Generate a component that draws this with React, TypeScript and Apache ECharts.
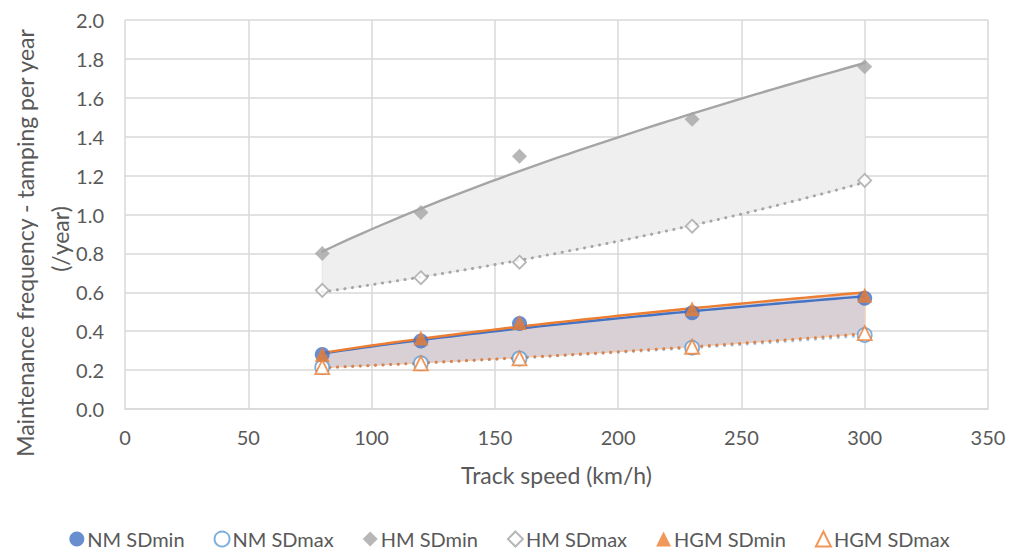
import React, { useEffect, useRef } from "react";
import * as echarts from "echarts";

const speeds = [80, 120, 160, 230, 300];
const nmMin = [0.28, 0.35, 0.44, 0.495, 0.57];
const nmMax = [0.215, 0.235, 0.26, 0.315, 0.38];
const hmMin = [0.8, 1.01, 1.3, 1.49, 1.76];
const hmMax = [0.61, 0.675, 0.755, 0.94, 1.175];
const hgmMin = [0.28, 0.365, 0.445, 0.515, 0.585];
const hgmMax = [0.215, 0.235, 0.26, 0.32, 0.39];

const xTicks = { min: 0, max: 350, interval: 50 };
const yTicks = { min: 0, max: 2, interval: 0.2 };

const yTitle1 = "Maintenance frequency - tamping per year";
const yTitle2 = "(/year)";
const xTitle = "Track speed (km/h)";

const FONT = "Lato, 'Noto Sans', sans-serif";
const TXT = "#595959";

function linReg(xs: number[], ys: number[]) {
  const n = xs.length;
  const mx = xs.reduce((a, b) => a + b, 0) / n;
  const my = ys.reduce((a, b) => a + b, 0) / n;
  let sxy = 0, sxx = 0;
  for (let i = 0; i < n; i++) {
    sxy += (xs[i] - mx) * (ys[i] - my);
    sxx += (xs[i] - mx) * (xs[i] - mx);
  }
  const b = sxy / sxx;
  return { a: my - b * mx, b };
}
// power trendline y = a x^b
function powerTrend(xs: number[], ys: number[]) {
  const r = linReg(xs.map(Math.log), ys.map(Math.log));
  return (x: number) => Math.exp(r.a) * Math.pow(x, r.b);
}
// exponential trendline y = a e^(bx)
function expTrend(xs: number[], ys: number[]) {
  const r = linReg(xs, ys.map(Math.log));
  return (x: number) => Math.exp(r.a + r.b * x);
}
function sample(f: (x: number) => number) {
  const out: number[][] = [];
  const x0 = speeds[0], x1 = speeds[speeds.length - 1];
  for (let x = x0; x <= x1 + 1e-9; x += 4) out.push([x, f(x)]);
  return out;
}

const pts = (ys: number[]) => speeds.map((x, i) => [x, ys[i]]);

export default function App() {
  const ref = useRef<HTMLDivElement>(null);
  useEffect(() => {
    if (!ref.current) return;
    const chart = echarts.init(ref.current, undefined, { renderer: "svg" });

    const tHmMin = sample(powerTrend(speeds, hmMin));
    const tHmMax = sample(expTrend(speeds, hmMax));
    const tNmMin = sample(powerTrend(speeds, nmMin));
    const tNmMax = sample(expTrend(speeds, nmMax));
    const tHgmMin = sample(powerTrend(speeds, hgmMin));
    const tHgmMax = sample(expTrend(speeds, hgmMax));

    const band = (upper: number[][], lower: number[][], fill: string, stroke: string, z: number) => ({
      type: "custom",
      silent: true,
      z,
      data: [[0, 0]],
      clip: true,
      renderItem: (_p: any, api: any) => {
        const poly = upper.map((p) => api.coord(p)).concat(lower.slice().reverse().map((p) => api.coord(p)));
        return { type: "polygon", shape: { points: poly }, style: { fill, stroke, lineWidth: 1 } };
      },
    });

    const trend = (data: number[][], color: string, dotted: boolean, z: number) => ({
      type: "line",
      data,
      z,
      showSymbol: false,
      symbol: "none",
      silent: true,
      lineStyle: dotted
        ? { color, width: 3, type: [0.1, 7.5], cap: "round" }
        : { color, width: 2.4, type: "solid", cap: "round" },
    });

    const scatter = (name: string, ys: number[], symbol: string, color: string, hollow: boolean, size: number) => ({
      type: "scatter",
      name,
      data: pts(ys),
      symbol,
      symbolSize: size,
      z: 10,
      itemStyle: hollow
        ? { color: "#ffffff", borderColor: color, borderWidth: 1.8 }
        : { color, borderColor: color, borderWidth: 0 },
    });

    chart.setOption({
      animation: false,
      backgroundColor: "#ffffff",
      textStyle: { fontFamily: FONT },
      grid: { left: 125, right: 31, top: 20, bottom: 142 },
      xAxis: {
        type: "value",
        ...xTicks,
        name: xTitle,
        nameLocation: "middle",
        nameGap: 54,
        nameTextStyle: { fontSize: 23, color: TXT, fontFamily: FONT },
        axisLine: { show: true, lineStyle: { color: "#d9d9d9", width: 1.5 } },
        axisTick: { show: false },
        axisLabel: { fontSize: 20, color: TXT, margin: 18, fontFamily: FONT },
        splitLine: { show: true, lineStyle: { color: "#d9d9d9", width: 1.5 } },
      },
      yAxis: {
        type: "value",
        ...yTicks,
        axisLine: { show: false },
        axisTick: { show: false },
        axisLabel: { fontSize: 20, color: TXT, margin: 21, fontFamily: FONT, formatter: (v: number) => v.toFixed(1) },
        splitLine: { show: true, lineStyle: { color: "#d9d9d9", width: 1.5 } },
      },
      graphic: [
        {
          type: "text",
          x: 25,
          y: 243,
          rotation: Math.PI / 2,
          style: { text: yTitle1, fontSize: 23, fill: TXT, fontFamily: FONT, align: "center", verticalAlign: "middle" },
        },
        {
          type: "text",
          x: 60,
          y: 239,
          rotation: Math.PI / 2,
          style: { text: yTitle2, fontSize: 23, fill: TXT, fontFamily: FONT, align: "center", verticalAlign: "middle" },
        },
      ],
      legend: {
        top: 529,
        padding: 0,
        left: "center",
        itemWidth: 15,
        itemHeight: 15,
        itemGap: 29,
        textStyle: { fontSize: 20, color: TXT, fontFamily: FONT, padding: [0, 0, 0, -2] },
        data: ["NM SDmin", "NM SDmax", "HM SDmin", "HM SDmax", "HGM SDmin", "HGM SDmax"],
      },
      series: [
        band(tHmMin, tHmMax, "#efefef", "#e6e6e6", 1),
        band(tHgmMin, tHgmMax, "#d9d0d5", "#f3c9ad", 1),
        trend(tHmMin, "#a5a5a5", false, 3),
        trend(tHmMax, "#a5a5a5", true, 3),
        trend(tNmMax, "#9dc3e6", true, 3),
        trend(tHgmMax, "#d9824a", true, 4),
        trend(tNmMin, "#4472c4", false, 4),
        trend(tHgmMin, "#ed7d31", false, 5),
        scatter("NM SDmin", nmMin, "circle", "#4472c4", false, 15),
        scatter("NM SDmax", nmMax, "circle", "#5b9bd5", true, 14),
        scatter("HM SDmin", hmMin, "diamond", "#a5a5a5", false, 15),
        scatter("HM SDmax", hmMax, "diamond", "#a5a5a5", true, 13),
        scatter("HGM SDmin", hgmMin, "triangle", "#ed7d31", false, 15),
        scatter("HGM SDmax", hgmMax, "triangle", "#ed7d31", true, 14),
      ],
    });
    return () => chart.dispose();
  }, []);
  return <div ref={ref} style={{ width: 1019, height: 551, position: "absolute", left: 0, top: 0 }} />;
}
